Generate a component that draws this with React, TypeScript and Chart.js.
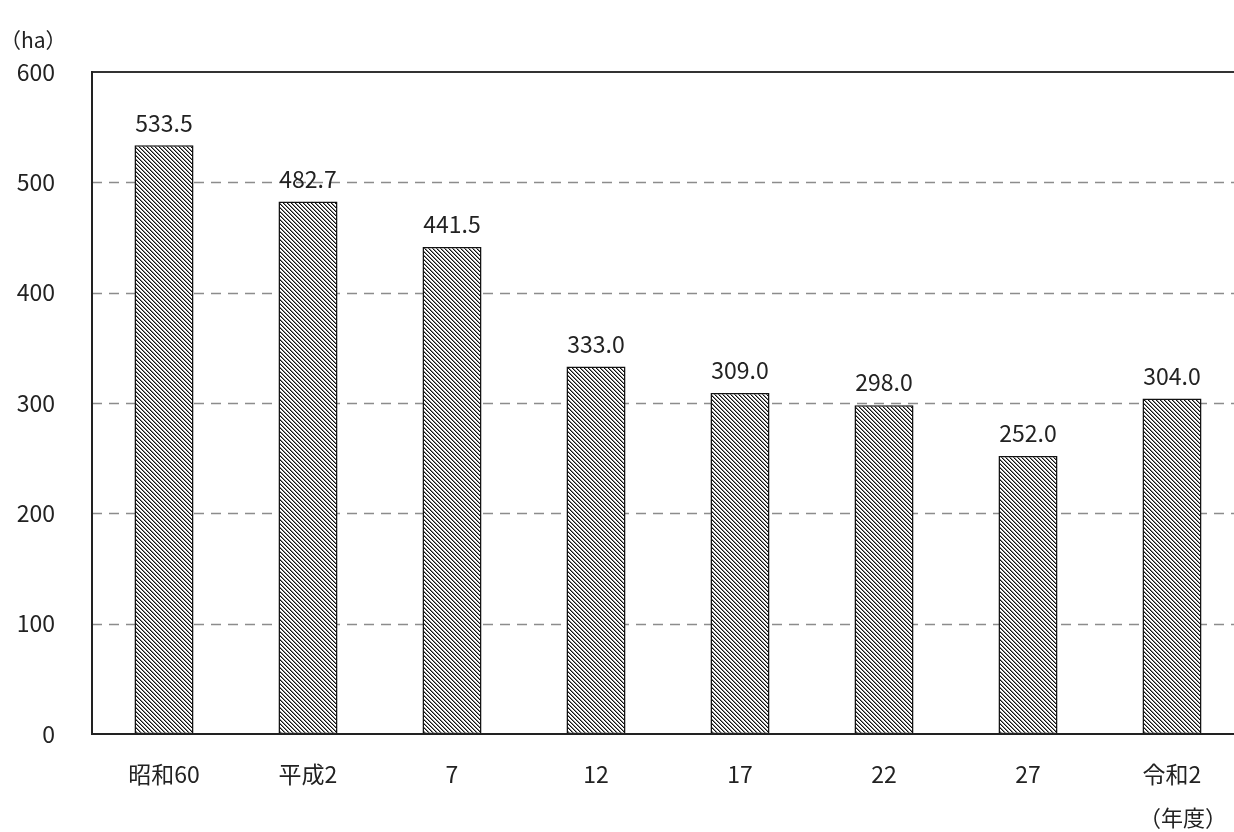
import React, { useEffect, useRef } from "react";
import { Chart, registerables } from "chart.js";

Chart.register(...registerables);

const categories = ["昭和60", "平成2", "7", "12", "17", "22", "27", "令和2"];
const areaValues = [533.5, 482.7, 441.5, 333.0, 309.0, 298.0, 252.0, 304.0];
const yTicks = [0, 100, 200, 300, 400, 500, 600];
const yUnitLabel = "（ha）";
const xUnitLabel = "（年度）";

const FONT = '"Noto Sans CJK JP", "Noto Sans", sans-serif';
const TEXT_COLOR = "#222";

function makePattern(): CanvasPattern | string {
  const c = document.createElement("canvas");
  c.width = 4;
  c.height = 4;
  const g = c.getContext("2d");
  if (!g) return "#888";
  g.fillStyle = "#fff";
  g.fillRect(0, 0, 4, 4);
  for (let i = 0; i < 4; i++) {
    g.fillStyle = "#111";
    g.fillRect(i, i, 1, 1);
    g.fillStyle = "#8a8a8a";
    g.fillRect((i + 1) % 4, i, 1, 1);
  }
  return g.createPattern(c, "repeat") || "#888";
}

const linesPlugin = {
  id: "customLines",
  beforeDatasetsDraw(chart: any) {
    const { ctx, chartArea } = chart;
    const y = chart.scales.y;
    const { left, right } = chartArea;
    ctx.save();
    ctx.strokeStyle = "#8c8c8c";
    ctx.lineWidth = 1.5;
    ctx.setLineDash([10, 7]);
    for (const v of yTicks) {
      if (v <= 0 || v >= 600) continue;
      const py = Math.round(y.getPixelForValue(v)) + 0.5;
      ctx.beginPath();
      ctx.moveTo(left, py);
      ctx.lineTo(right, py);
      ctx.stroke();
    }
    ctx.setLineDash([]);
    ctx.strokeStyle = "#333";
    ctx.lineWidth = 2;
    const pTop = Math.round(y.getPixelForValue(600));
    ctx.beginPath();
    ctx.moveTo(left, pTop);
    ctx.lineTo(right, pTop);
    ctx.stroke();
    ctx.restore();
  },
  afterDatasetsDraw(chart: any) {
    const { ctx, chartArea } = chart;
    const y = chart.scales.y;
    const { left, right, top } = chartArea;
    const pBottom = Math.round(y.getPixelForValue(0));
    ctx.save();
    ctx.strokeStyle = "#222";
    ctx.lineWidth = 2;
    ctx.beginPath();
    ctx.moveTo(left, pBottom);
    ctx.lineTo(right, pBottom);
    ctx.moveTo(left, top - 1);
    ctx.lineTo(left, pBottom + 1);
    ctx.stroke();

    // value labels
    const meta = chart.getDatasetMeta(0);
    ctx.fillStyle = TEXT_COLOR;
    ctx.font = `23px ${FONT}`;
    ctx.textAlign = "center";
    ctx.textBaseline = "bottom";
    meta.data.forEach((el: any, i: number) => {
      ctx.fillText(areaValues[i].toFixed(1), el.x, el.y - 11);
    });

    // unit labels
    ctx.textAlign = "left";
    ctx.textBaseline = "middle";
    ctx.font = `21px ${FONT}`;
    ctx.fillText(yUnitLabel, 0, 40);
    ctx.textAlign = "center";
    ctx.font = `22px ${FONT}`;
    ctx.fillText(xUnitLabel, 1183, 818);
    ctx.restore();
  },
};

export default function App() {
  const ref = useRef<HTMLCanvasElement | null>(null);

  useEffect(() => {
    const canvas = ref.current;
    if (!canvas) return;
    const chart = new Chart(canvas, {
      type: "bar",
      data: {
        labels: categories,
        datasets: [
          {
            data: areaValues,
            backgroundColor: makePattern() as any,
            borderColor: "#111",
            borderWidth: 1.5,
            borderSkipped: false,
            barPercentage: 0.41,
            categoryPercentage: 1,
          },
        ],
      },
      options: {
        animation: false,
        responsive: false,
        devicePixelRatio: 1,
        layout: { padding: { top: 72, left: 0, right: 0, bottom: 0 } },
        plugins: {
          legend: { display: false },
          tooltip: { enabled: false },
          title: { display: false },
        },
        scales: {
          x: {
            type: "category",
            offset: true,
            grid: { display: false, drawTicks: false },
            border: { display: false },
            ticks: {
              color: TEXT_COLOR,
              font: { family: FONT, size: 23 },
              padding: 26,
              maxRotation: 0,
              autoSkip: false,
            },
            afterFit: (s: any) => {
              s.height = 98;
            },
          },
          y: {
            min: 0,
            max: 600,
            grid: { display: false, drawTicks: false },
            border: { display: false },
            ticks: {
              stepSize: 100,
              color: TEXT_COLOR,
              font: { family: FONT, size: 23 },
              padding: 37,
            },
            afterFit: (s: any) => {
              s.width = 92;
            },
          },
        },
      },
      plugins: [linesPlugin],
    });
    return () => chart.destroy();
  }, []);

  return (
    <div
      style={{
        position: "fixed",
        left: 0,
        top: 0,
        width: 1234,
        height: 832,
        overflow: "hidden",
        background: "#fff",
      }}
    >
      <canvas ref={ref} width={1244} height={832} style={{ width: 1244, height: 832, display: "block" }} />
    </div>
  );
}
